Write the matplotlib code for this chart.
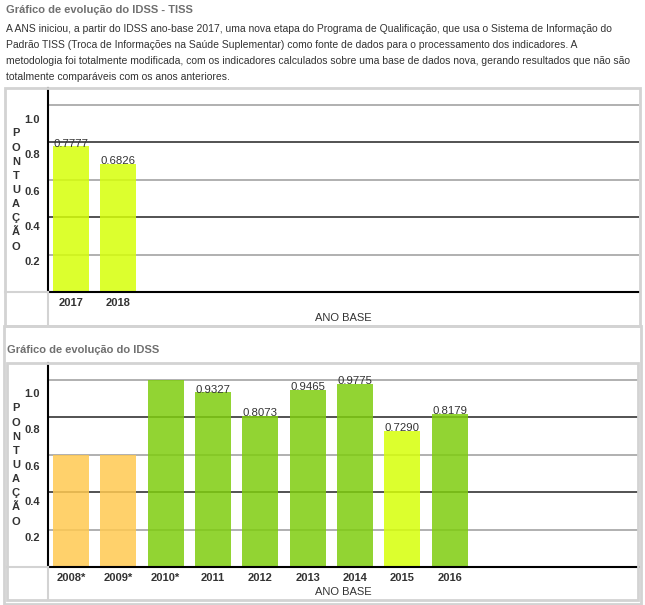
import matplotlib

matplotlib.use("Agg")
import matplotlib.pyplot as plt
from matplotlib.patches import Rectangle
from matplotlib.transforms import ScaledTranslation

plt.rcParams["font.family"] = ["Liberation Sans", "DejaVu Sans"]

W, H, DPI = 645, 605, 100

# data
tiss_years = ["2017", "2018"]
tiss_scores = [0.7777, 0.6826]
tiss_labels = ["0.7777", "0.6826"]
tiss_colors = ["#d6ff09", "#d6ff09"]

idss_years = ["2008*", "2009*", "2010*", "2011", "2012", "2013", "2014", "2015", "2016"]
idss_scores = [0.60, 0.60, 1.00, 0.9327, 0.8073, 0.9465, 0.9775, 0.7290, 0.8179]
idss_labels = [None, None, None, "0.9327", "0.8073", "0.9465", "0.9775", "0.7290", "0.8179"]
idss_colors = ["#ffc951", "#ffc951", "#7fcd0f", "#7fcd0f", "#7fcd0f",
               "#7fcd0f", "#7fcd0f", "#d6ff09", "#7fcd0f"]

y_ticks = [0.2, 0.4, 0.6, 0.8, 1.0]
y_tick_labels = ["0.2", "0.4", "0.6", "0.8", "1.0"]

TITLE_1 = "Gráfico de evolução do IDSS - TISS"
TITLE_2 = "Gráfico de evolução do IDSS"
INTRO = [
    "A ANS iniciou, a partir do IDSS ano-base 2017, uma nova etapa do Programa de Qualificação, que usa o Sistema de Informação do",
    "Padrão TISS (Troca de Informações na Saúde Suplementar) como fonte de dados para o processamento dos indicadores. A",
    "metodologia foi totalmente modificada, com os indicadores calculados sobre uma base de dados nova, gerando resultados que não são",
    "totalmente comparáveis com os anos anteriores.",
]

BORDER = "#d3d3d3"
TEXT = "#333333"


def px(x, y):
    return x / W, 1 - y / H


def box(fig, x0, y0, x1, y1, lw=2.0):
    fig.patches.append(Rectangle(px(x0, y1), (x1 - x0) / W, (y1 - y0) / H,
                                 transform=fig.transFigure, fill=False,
                                 edgecolor=BORDER, linewidth=lw, zorder=0))


def hline(fig, x0, x1, y, color=BORDER, lw=1.5):
    fig.add_artist(plt.Line2D([x0 / W, x1 / W], [1 - y / H] * 2,
                              transform=fig.transFigure, color=color, linewidth=lw))


def vline(fig, x, y0, y1, color=BORDER, lw=1.5):
    fig.add_artist(plt.Line2D([x / W] * 2, [1 - y0 / H, 1 - y1 / H],
                              transform=fig.transFigure, color=color, linewidth=lw))


def draw_chart(fig, top, bottom, years, scores, labels, colors, label_shift):
    left, right = 48, 639
    ax = fig.add_axes([left / W, 1 - bottom / H, (right - left) / W, (bottom - top) / H])
    x = list(range(len(years)))

    for i, v in enumerate(y_ticks):
        ax.axhline(v, color="#444444" if i % 2 else "#aaaaaa", linewidth=1.3, zorder=1)

    ax.bar(x, scores, width=0.76, color=colors, alpha=0.85, zorder=2)
    for xi, v, lab in zip(x, scores, labels):
        if lab:
            ax.annotate(lab, (xi, v), xytext=(0, -1.5), textcoords="offset points",
                        ha="center", va="bottom", fontsize=8.2, color=TEXT, zorder=3)

    ax.set_xlim(-0.486, 12.0)
    ax.set_ylim(0, 1.09)
    ax.set_xticks(x)
    ax.set_xticklabels(years, fontsize=8, fontweight="bold", color=TEXT)
    ax.set_yticks(y_ticks)
    ax.set_yticklabels(y_tick_labels, fontsize=8, fontweight="bold", color=TEXT)
    ax.tick_params(length=0)
    ax.tick_params(axis="y", pad=6)
    ax.tick_params(axis="x", pad=4)
    for lab, dy in zip(ax.get_yticklabels(), label_shift):
        lab.set_transform(lab.get_transform() + ScaledTranslation(0, -dy / DPI, fig.dpi_scale_trans))

    for side in ("top", "right"):
        ax.spines[side].set_visible(False)
    for side in ("left", "bottom"):
        ax.spines[side].set_color("black")
        ax.spines[side].set_linewidth(1.5)
    return ax


fig = plt.figure(figsize=(W / DPI, H / DPI), dpi=DPI)

# header text
fig.text(*px(6, 10), TITLE_1, fontsize=8.0, fontweight="bold", color="#707070", va="center")
for k, line in enumerate(INTRO):
    fig.text(*px(6, 29 + 16 * k), line, fontsize=7.5, color=TEXT, va="center")

# first chart
box(fig, 5, 88, 640, 326)
hline(fig, 5, 48, 292)
vline(fig, 48, 292, 326)
draw_chart(fig, 88, 292, tiss_years, tiss_scores, tiss_labels, tiss_colors, [6, 9, 11, 12, 14])
fig.text(*px(16, 190), "\n".join("PONTUAÇÃO"), fontsize=8, fontweight="bold", color=TEXT,
         ha="center", va="center", linespacing=1.52)
fig.text(*px(343.5, 318), "ANO BASE", fontsize=8.0, color=TEXT, ha="center", va="center")

# second chart
box(fig, 4, 326, 641, 604)
fig.text(*px(7, 350), TITLE_2, fontsize=8.0, fontweight="bold", color="#707070", va="center")
box(fig, 7, 363, 638, 600)
hline(fig, 7, 48, 567)
vline(fig, 48, 567, 600)
draw_chart(fig, 363, 567, idss_years, idss_scores, idss_labels, idss_colors, [7, 9, 11, 12, 13])
fig.text(*px(16, 465), "\n".join("PONTUAÇÃO"), fontsize=8, fontweight="bold", color=TEXT,
         ha="center", va="center", linespacing=1.52)
fig.text(*px(343.5, 592), "ANO BASE", fontsize=8.0, color=TEXT, ha="center", va="center")

fig.savefig("out.png", dpi=DPI)
plt.close(fig)
